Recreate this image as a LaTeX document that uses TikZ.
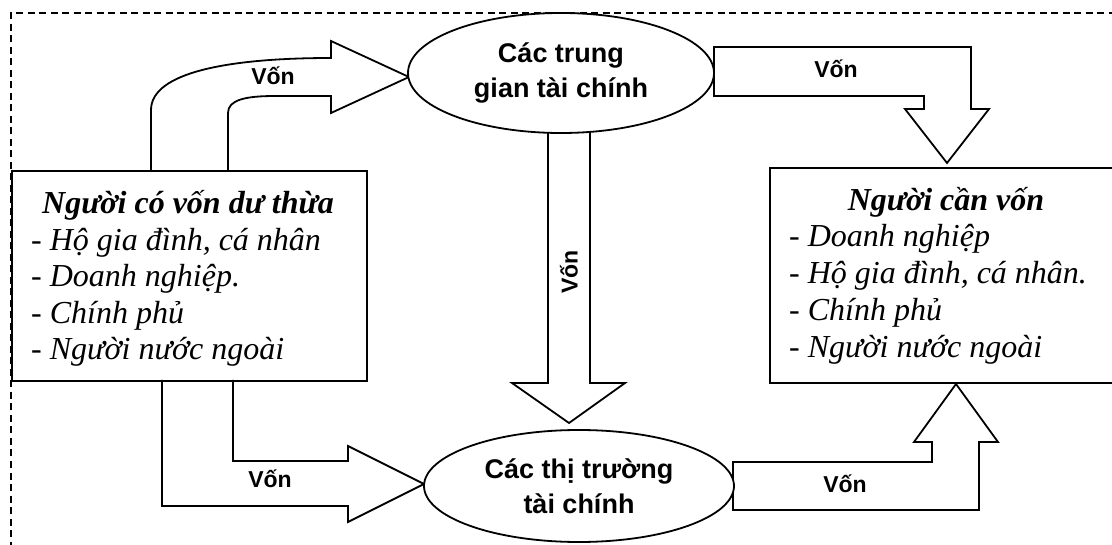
\documentclass[tikz,border=0pt]{standalone}
\usepackage{fontspec}
\setmainfont{Liberation Serif}
\newfontfamily\arialf{Liberation Sans}
\usetikzlibrary{shapes.geometric}
\begin{document}
\begin{tikzpicture}[x=1pt,y=-1pt,
  shp/.style={line width=1.8pt, line join=miter},
  frame/.style={line width=1.3pt, dash pattern=on 7pt off 4.5pt},
  boxnode/.style={draw, line width=1.8pt, rectangle, inner sep=0, anchor=north west},
  boxtitle/.style={font=\fontsize{32}{37}\selectfont\bfseries\itshape, anchor=base, inner sep=0},
  boxitem/.style={font=\fontsize{32}{37}\selectfont\itshape, anchor=base west, inner sep=0},
  lab/.style={font=\arialf\bfseries\fontsize{23}{26}\selectfont, inner sep=0},
  ell/.style={draw, ellipse, line width=1.8pt, fill=white, inner sep=0, align=center,
              font=\arialf\bfseries\fontsize{27}{35}\selectfont}]
\clip (0,0) rectangle (1112,545);
\fill[white] (0,0) rectangle (1112,545);

% dashed frame
\draw[frame] (11,560) -- (11,13) -- (1140,13);

% boxes
\node[boxnode, fill=white, minimum width=355pt, minimum height=210pt] (lbox) at (11,170) {};
\node[boxnode, fill=white, minimum width=354pt, minimum height=215pt] (rbox) at (769,167) {};

% top-left curved arrow
\draw[shp] (151,170) -- (151,110) .. controls (151,72) and (230,58) .. (331,58)
  -- (331,41) -- (409,77) -- (331,113) -- (331,96) -- (275,96)
  .. controls (245,96) and (228,100) .. (228,113) -- (228,170);
% bottom-left arrow
\draw[shp] (162,380) -- (162,506) -- (348,506) -- (348,522) -- (424,484)
  -- (348,446) -- (348,461) -- (233,461) -- (233,380);
% vertical arrow
\draw[shp] (548,100) -- (548,383) -- (512,383) -- (569,423) -- (625,383)
  -- (590,383) -- (590,100);
% top-right arrow
\draw[shp] (714,47) -- (971,47) -- (971,109) -- (989,109) -- (947,163)
  -- (905,109) -- (924,109) -- (924,96) -- (714,96) -- cycle;
% bottom-right arrow
\draw[shp] (733,462) -- (932,462) -- (932,442) -- (914,442) -- (956,384)
  -- (998,442) -- (979,442) -- (979,510) -- (733,510) -- cycle;

% ellipses
\node[ell, minimum width=306pt, minimum height=120pt] (inter) at (561,73)
  {Các trung\\gian tài chính};
\node[ell, minimum width=310pt, minimum height=112pt] (market) at (579,486)
  {Các thị trường\\tài chính};

% left box text
\node[boxtitle] (lt) at (188,214) {Người có vốn dư thừa};
\node[boxitem] (l1) at (31,251) {- Hộ gia đình, cá nhân};
\node[boxitem] (l2) at (31,287) {- Doanh nghiệp.};
\node[boxitem] (l3) at (31,324) {- Chính phủ};
\node[boxitem] (l4) at (31,360) {- Người nước ngoài};

% right box text
\node[boxtitle] (rt) at (946,211) {Người cần vốn};
\node[boxitem] (r1) at (789,247) {- Doanh nghiệp};
\node[boxitem] (r2) at (789,284) {- Hộ gia đình, cá nhân.};
\node[boxitem] (r3) at (789,321) {- Chính phủ};
\node[boxitem] (r4) at (789,358) {- Người nước ngoài};

% labels
\node[lab] (v1) at (273,76) {Vốn};
\node[lab] (v2) at (270,479) {Vốn};
\node[lab] (v3) at (836,69) {Vốn};
\node[lab] (v4) at (845,484) {Vốn};
\node[lab, rotate=90] (v5) at (569,272) {Vốn};
\end{tikzpicture}
\end{document}
